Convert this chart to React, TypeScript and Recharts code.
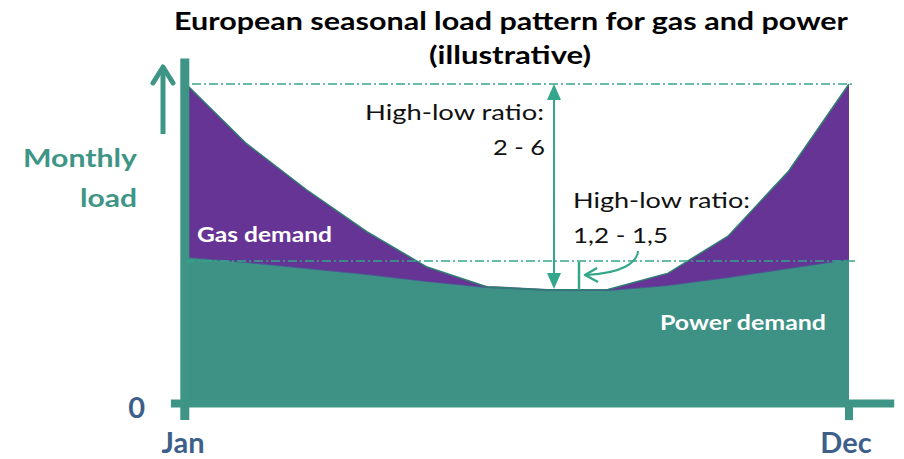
import { AreaChart, Area, XAxis, YAxis, ReferenceLine } from "recharts";

// months on the x axis (only Jan and Dec are labelled)
const months = ["Jan", "Feb", "Mar", "Apr", "May", "Jun", "Jul", "Aug", "Sep", "Oct", "Nov", "Dec"];
// illustrative monthly load (peak total = 100)
const powerDemand = [45.9, 44.3, 42.4, 40.5, 38.3, 36.5, 35.5, 35.5, 37.1, 39.6, 42.4, 45.2];
const gasDemand = [54.1, 37.1, 24.5, 13.3, 4.4, 0, 0, 0.2, 3.7, 12.9, 30.4, 54.8];
const xTicks = [0, 11];
const yTicks = [0];
const peakLoad = 100; // top dash-dot line
const powerPeak = 44.6; // lower dash-dot line

const PURPLE = "#653494";
const TEAL_AREA = "#3d9185";
const TEAL_AXIS = "#3e9586";
const TEAL_NOTE = "#34a68b";
const NAVY = "#3d5f89";
const FONT = "Lato, 'Open Sans', sans-serif";

const data = months.map((m, i) => ({ idx: i, month: m, power: powerDemand[i], gas: gasDemand[i] }));

// eslint-disable-next-line @typescript-eslint/no-explicit-any
function MonthTick(props: any) {
  const { x, y, payload } = props;
  return (
    <text x={x - 3} y={y + 49.5} textAnchor="middle" fill={NAVY} fontFamily={FONT} fontWeight={700} fontSize={29}>
      {months[payload.value]}
    </text>
  );
}

// eslint-disable-next-line @typescript-eslint/no-explicit-any
function ZeroTick(props: any) {
  const { x, y, payload } = props;
  return (
    <text x={x - 41} y={y + 14.5} textAnchor="end" fill={NAVY} fontFamily={FONT} fontWeight={700} fontSize={29}>
      {payload.value}
    </text>
  );
}

function Notes() {
  return (
    <svg width={904} height={459} style={{ position: "absolute", left: 0, top: 0, pointerEvents: "none" }}>
      <text x={511} y={30} textAnchor="middle" fontFamily={FONT} fontWeight={700} fontSize={24} fill="#000" textLength={674} lengthAdjust="spacingAndGlyphs">
        European seasonal load pattern for gas and power
      </text>
      <text x={510} y={64} textAnchor="middle" fontFamily={FONT} fontWeight={700} fontSize={24} fill="#000" textLength={162} lengthAdjust="spacingAndGlyphs">
        (illustrative)
      </text>

      {/* y axis caption + arrow */}
      <text x={137} y={167} textAnchor="end" fontFamily={FONT} fontWeight={700} fontSize={25} fill={TEAL_AXIS} textLength={114} lengthAdjust="spacingAndGlyphs">
        Monthly
      </text>
      <text x={137} y={207} textAnchor="end" fontFamily={FONT} fontWeight={700} fontSize={25} fill={TEAL_AXIS} textLength={57} lengthAdjust="spacingAndGlyphs">
        load
      </text>
      <line x1={163} y1={134} x2={163} y2={67} stroke={TEAL_AXIS} strokeWidth={5} />
      <polyline points="153,83 163,67 173,83" fill="none" stroke={TEAL_AXIS} strokeWidth={5} strokeLinecap="round" strokeLinejoin="round" />

      {/* high-low ratio, gas */}
      <line x1={554} y1={98} x2={554} y2={275} stroke={TEAL_NOTE} strokeWidth={2} />
      <polygon points="554,84 547,100 561,100" fill={TEAL_NOTE} />
      <polygon points="554,289 547,273 561,273" fill={TEAL_NOTE} />
      <text x={544} y={120} textAnchor="end" fontFamily={FONT} fontSize={22} fill="#111" textLength={179} lengthAdjust="spacingAndGlyphs">
        High-low ratio:
      </text>
      <text x={545} y={155} textAnchor="end" fontFamily={FONT} fontSize={22} fill="#111" textLength={52} lengthAdjust="spacingAndGlyphs">
        2 - 6
      </text>

      {/* high-low ratio, power */}
      <line x1={579} y1={262} x2={579} y2={290} stroke={TEAL_NOTE} strokeWidth={2.5} />
      <path d="M638,251 C637,263 622,273 587,275" fill="none" stroke={TEAL_NOTE} strokeWidth={2} />
      <polyline points="597,268 585,275 598,282" fill="none" stroke={TEAL_NOTE} strokeWidth={2.5} strokeLinejoin="round" />
      <text x={573} y={208} fontFamily={FONT} fontSize={22} fill="#111" textLength={177} lengthAdjust="spacingAndGlyphs">
        High-low ratio:
      </text>
      <text x={573} y={243} fontFamily={FONT} fontSize={22} fill="#111" textLength={95} lengthAdjust="spacingAndGlyphs">
        1,2 - 1,5
      </text>

      <text x={197} y={242} fontFamily={FONT} fontWeight={700} fontSize={20} fill="#fff" textLength={135} lengthAdjust="spacingAndGlyphs">
        Gas demand
      </text>
      <text x={660} y={330} fontFamily={FONT} fontWeight={700} fontSize={20} fill="#fff" textLength={166} lengthAdjust="spacingAndGlyphs">
        Power demand
      </text>
    </svg>
  );
}

export default function App() {
  return (
    <div style={{ position: "absolute", left: 0, top: 0, width: 904, height: 459, background: "#fff" }}>
      <AreaChart width={904} height={459} data={data} margin={{ top: 84, right: 55, bottom: 0, left: 146 }}>
        <XAxis
          type="number"
          dataKey="idx"
          domain={[0, 11]}
          ticks={xTicks}
          axisLine={false}
          tickLine={false}
          tickSize={0}
          tickMargin={0}
          height={55.5}
          tick={MonthTick}
        />
        <YAxis
          type="number"
          domain={[0, 100]}
          ticks={yTicks}
          axisLine={false}
          tickLine={false}
          tickSize={0}
          tickMargin={0}
          width={40}
          tick={ZeroTick}
        />
        {/* thick axis bars, wider than the plot */}
        <ReferenceLine segment={[{ x: -0.25, y: 0 }, { x: 11.75, y: 0 }]} stroke={TEAL_AXIS} strokeWidth={8} ifOverflow="visible" />
        <ReferenceLine segment={[{ x: -0.02, y: 108 }, { x: -0.02, y: -5.2 }]} stroke={TEAL_AXIS} strokeWidth={9} ifOverflow="visible" />
        <ReferenceLine segment={[{ x: 11, y: 0 }, { x: 11, y: -5.2 }]} stroke={TEAL_AXIS} strokeWidth={8} ifOverflow="visible" />

        <Area
          type="linear"
          dataKey="power"
          stackId="load"
          fill={TEAL_AREA}
          fillOpacity={1}
          stroke="#4d5893"
          strokeWidth={2}
          isAnimationActive={false}
        />
        <Area
          type="linear"
          dataKey="gas"
          stackId="load"
          fill={PURPLE}
          fillOpacity={1}
          stroke="#2f7f70"
          strokeWidth={1.5}
          isAnimationActive={false}
        />

        <ReferenceLine segment={[{ x: 0.1, y: peakLoad }, { x: 11.05, y: peakLoad }]} stroke={TEAL_NOTE} strokeWidth={1.5} strokeDasharray="9 3 2 3" ifOverflow="visible" />
        <ReferenceLine segment={[{ x: 0, y: powerPeak }, { x: 11.1, y: powerPeak }]} stroke={TEAL_NOTE} strokeWidth={1.5} strokeDasharray="9 3 2 3" ifOverflow="visible" />
      </AreaChart>
      <Notes />
    </div>
  );
}
